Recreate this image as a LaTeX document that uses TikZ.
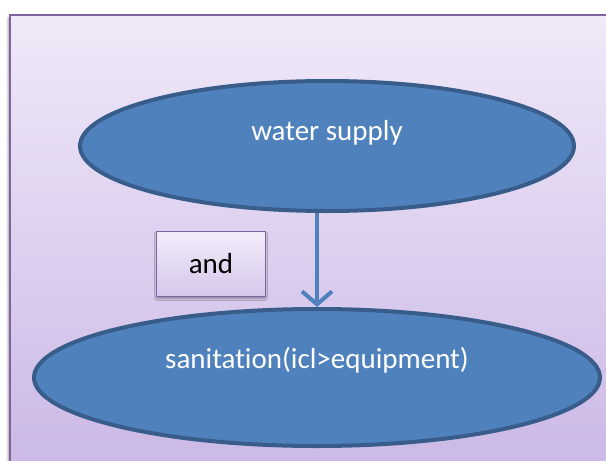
\documentclass[tikz,border=0pt]{standalone}
\usepackage{fontspec}
\setmainfont[Ligatures=NoCommon]{Carlito}
\usetikzlibrary{shapes.geometric,arrows.meta,shadows.blur}

\definecolor{panelTop}{HTML}{F0E9F8}
\definecolor{panelBottom}{HTML}{CBB8E6}
\definecolor{panelEdge}{HTML}{8064A2}
\definecolor{ovalFill}{HTML}{4F81BD}
\definecolor{ovalEdge}{HTML}{385D8A}
\definecolor{boxTop}{HTML}{F2ECF9}
\definecolor{boxBottom}{HTML}{D5C6EA}

\tikzset{
  oval/.style={ellipse, draw=ovalEdge, fill=ovalFill, line width=4pt, inner sep=0pt},
  ovaltext/.style={text=white, font=\fontsize{29}{34}\selectfont, inner sep=0pt},
  labelbox/.style={rectangle, draw=panelEdge, line width=1.5pt,
    top color=boxTop, bottom color=boxBottom, inner sep=0pt,
    minimum width=109pt, minimum height=65pt,
    font=\fontsize{29}{34}\selectfont,
    blur shadow={shadow xshift=0pt, shadow yshift=-2pt, shadow blur steps=6, shadow opacity=35}},
  flow/.style={draw=ovalFill, line width=4pt,
    -{Straight Barb[length=13pt, width=30pt, line width=4pt]}}
}

\begin{document}
\begin{tikzpicture}[x=1pt, y=-1pt]
  \useasboundingbox (0,0) rectangle (606,461);

  % panel with its soft left shadow
  \foreach \o/\a in {4/0.05, 3/0.08, 2/0.12, 1/0.18}
    \fill[black, opacity=\a] (10-\o,17) rectangle (10,470);
  \shade[top color=panelTop, bottom color=panelBottom] (10,15) rectangle (612,470);
  \draw[panelEdge, line width=2pt] (10,470) -- (10,15) -- (612,15);

  % nodes
  \node[oval, minimum width=494pt, minimum height=130pt,
        label={[ovaltext, yshift=13pt]center:water supply}] (supply) at (327,146) {};
  \node[oval, minimum width=566pt, minimum height=137pt,
        label={[ovaltext, yshift=17pt]center:sanitation(icl>equipment)}] (sanit) at (317,377.5) {};
  \node[labelbox] (rel) at (211,264) {and};

  % relation arrow
  \draw[flow] (supply.south -| sanit.north) -- (sanit.north);
\end{tikzpicture}
\end{document}
